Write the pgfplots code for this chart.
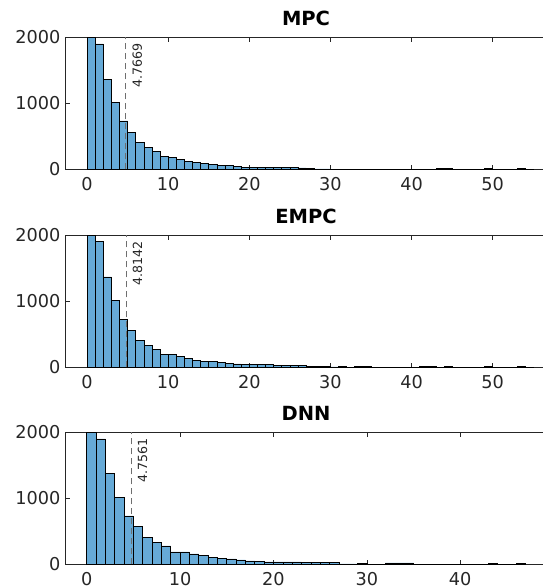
\documentclass[border=0pt]{standalone}
\usepackage{fontspec}
\setmainfont{DejaVu Sans}
\usepackage{pgfplots}
\pgfplotsset{compat=1.18}
\definecolor{barblue}{RGB}{102,170,215}
\definecolor{axgray}{RGB}{38,38,38}
\definecolor{xlgray}{RGB}{110,110,110}

\tikzset{
  mlabel/.style={xshift=6.5pt, yshift=-6pt, rotate=90, anchor=north east, inner sep=0pt,
    font=\fontsize{12.6}{14}\selectfont, text=axgray},
}
\pgfplotsset{
  hist/.style={
    scale only axis, width=482pt, height=132pt,
    anchor=south west,
    ymin=0, ymax=2000, ytick={0,1000,2000},
    axis line style={axgray, line width=0.6pt},
    tick style={axgray, line width=0.6pt},
    tick align=inside, major tick length=4.5pt,
    ticklabel style={font=\fontsize{17.7}{20}\selectfont, text=axgray},
    xticklabel style={yshift=-5pt},
    yticklabel style={xshift=-1pt},
    /pgf/number format/assume math mode=true,
    /pgf/number format/1000 sep={},
    scaled y ticks=false,
    clip mode=individual,
    title style={font=\bfseries\fontsize{19.5}{22}\selectfont, yshift=2pt},
  },
  bars/.style={ybar interval, fill=barblue, draw=black, line width=0.6pt},
  mline/.style={xlgray, line width=0.8pt, dash pattern=on 6pt off 4pt},
}

\pgfplotstableread{
x y
0 2000
1 1900
2 1357
3 1010
4 734
5 558
6 407
7 337
8 276
9 191
10 185
11 155
12 125
13 102
14 85
15 80
16 65
17 55
18 40
19 32
20 30
21 30
22 28
23 28
24 25
25 24
26 22
27 8
28 6
29 5
30 4
31 4
32 3
33 3
34 3
35 2
36 3
37 2
38 2
39 2
40 3
41 2
42 2
43 10
44 9
45 1
46 1
47 1
48 3
49 10
50 2
51 0
52 1
53 10
54 1
55 0
}\mpcdata

\pgfplotstableread{
x y
0 2000
1 1910
2 1370
3 1010
4 730
5 555
6 405
7 330
8 275
9 200
10 190
11 160
12 130
13 108
14 90
15 85
16 70
17 60
18 50
19 45
20 40
21 40
22 40
23 30
24 30
25 30
26 28
27 8
28 18
29 18
30 5
31 14
32 4
33 18
34 18
35 4
36 3
37 3
38 3
39 3
40 2
41 8
42 8
43 2
44 8
45 1
46 1
47 1
48 1
49 8
50 1
51 1
52 1
53 8
54 1
55 0
}\empcdata

\pgfplotstableread{
x y
0 2000
1 1899
2 1382
3 1013
4 734
5 572
6 410
7 334
8 278
9 187
10 187
11 157
12 129
13 100
14 86
15 81
16 68
17 53
18 40
19 36
20 36
21 36
22 36
23 25
24 25
25 25
26 25
27 5
28 5
29 15
30 3
31 3
32 20
33 20
34 20
35 4
36 2
37 3
38 3
39 3
40 3
41 2
42 1
43 8
44 1
45 1
46 8
47 0
}\dnndata

\begin{document}
\begin{tikzpicture}
\begin{axis}[hist, at={(65pt,418.7pt)}, title={MPC},
  xmin=-2.72, xmax=56.7, xtick={0,10,...,50}]
  \addplot[bars] table[x=x,y=y] {\mpcdata};
  \addplot[mline] coordinates {(4.7669,0) (4.7669,2000)};
  \node[mlabel] at (axis cs:4.7669,2000) {4.7669};
\end{axis}
\begin{axis}[hist, at={(65pt,220.7pt)}, title={EMPC},
  xmin=-2.72, xmax=56.7, xtick={0,10,...,50}]
  \addplot[bars] table[x=x,y=y] {\empcdata};
  \addplot[mline] coordinates {(4.8142,0) (4.8142,2000)};
  \node[mlabel] at (axis cs:4.8142,2000) {4.8142};
\end{axis}
\begin{axis}[hist, at={(65pt,23.7pt)}, title={DNN},
  xmin=-2.33, xmax=49.3, xtick={0,10,...,40}]
  \addplot[bars] table[x=x,y=y] {\dnndata};
  \addplot[mline] coordinates {(4.7561,0) (4.7561,2000)};
  \node[mlabel] at (axis cs:4.7561,2000) {4.7561};
\end{axis}
\pgfresetboundingbox
\useasboundingbox (0,0) rectangle (542pt,588pt);
\end{tikzpicture}
\end{document}
